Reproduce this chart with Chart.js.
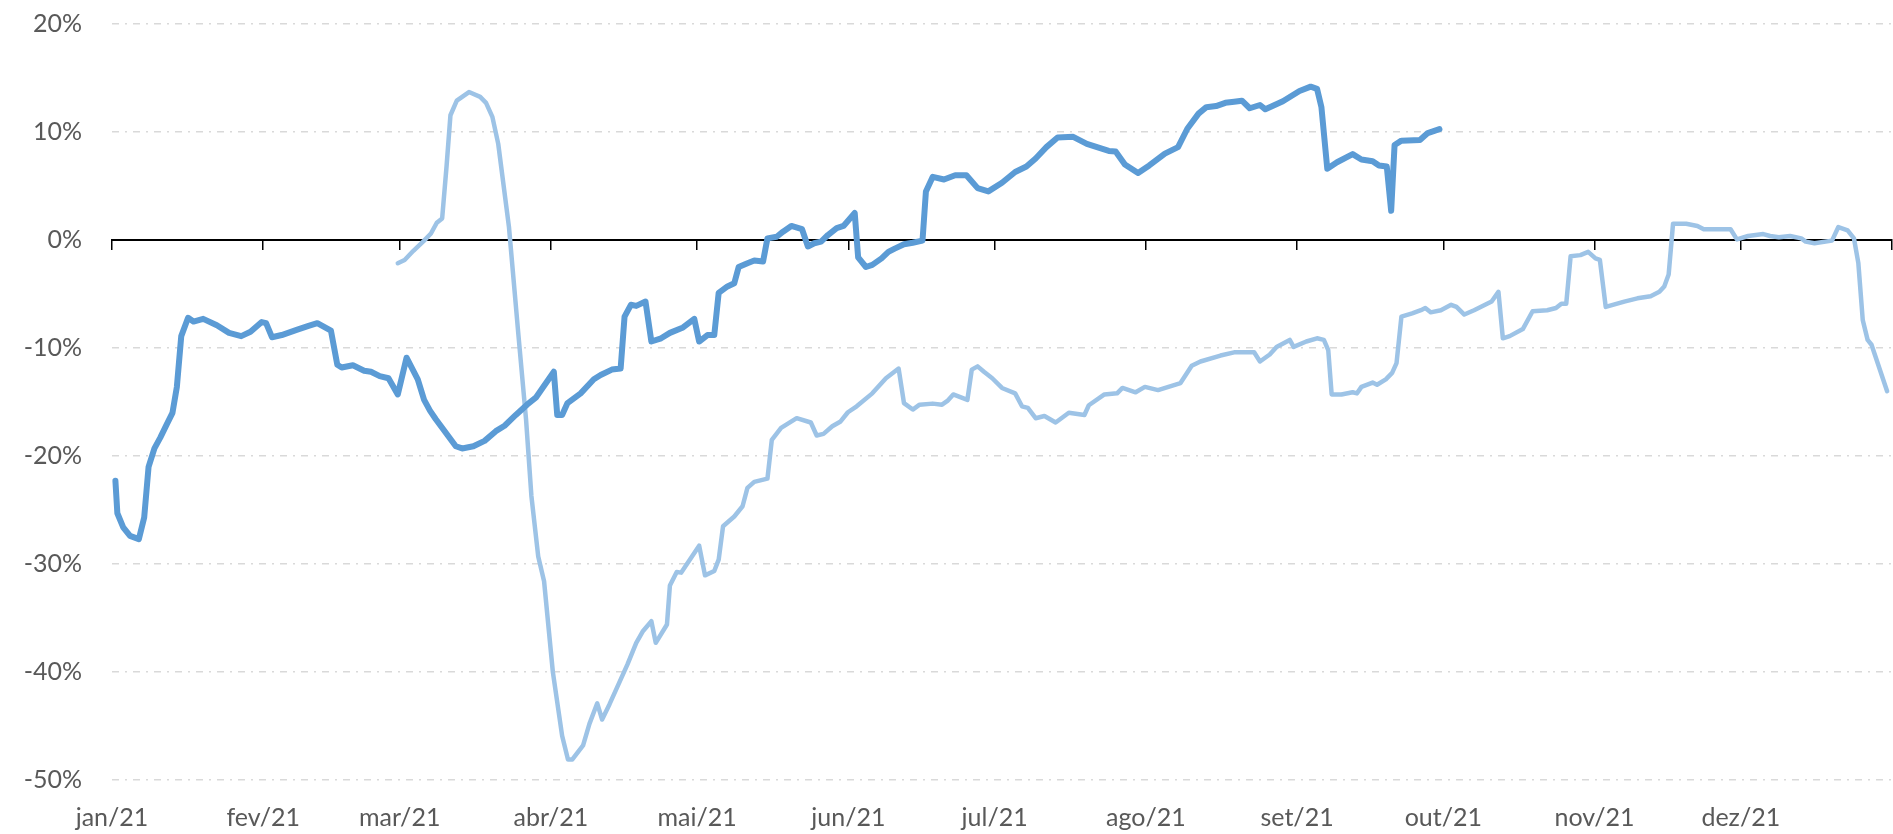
<!doctype html>
<html>

<head>
	<title>Retorno acumulado 2021</title>
	<script src="https://cdn.jsdelivr.net/npm/chart.js@4.4.1/dist/chart.umd.min.js"></script>
	<style>
		body {
			margin: 0;
			background: #fff;
		}
	</style>
</head>

<body>
	<canvas id="canvas" width="1893" height="834"></canvas>
	<script>
		// month axis (day of year where each month starts)
		var monthLabels = ['jan/21', 'fev/21', 'mar/21', 'abr/21', 'mai/21', 'jun/21', 'jul/21', 'ago/21', 'set/21', 'out/21', 'nov/21', 'dez/21'];
		var monthStarts = [0, 31, 59, 90, 120, 151, 181, 212, 243, 273, 304, 334];
		var yearEnd = 365;

		// dark series: day of year / value in %
		var darkDays = [
			0.7, 1.1, 2.3, 3.7, 5.5, 6.6, 7.5, 8.7, 9.9, 11.2, 12.4, 13.3, 14.2, 15.6, 16.7, 18.7,
			21.5, 24, 26.5, 28.4, 30.7, 31.6, 32.8, 34.8, 38, 40.3, 42.1, 44.9, 46.2, 47.1, 49.4,
			51.7, 53.1, 54.9, 56.7, 58.6, 60.4, 62.7, 64, 65.2, 66.4, 70.5, 71.8, 74.1, 76.4, 78.7,
			80.5, 82.8, 85.1, 86.9, 90.6, 91.3, 92.3, 93.4, 96.1, 98.8, 100.2, 102.5, 104.3, 105.1,
			106.4, 107.5, 109.4, 110.6, 112.6, 114.4, 117.1, 119.4, 120.4, 122.1, 123.5, 124.4,
			126.2, 127.6, 128.5, 130.3, 131.7, 133.5, 134.4, 136.3, 137.6, 139.3, 141.5, 142.7,
			144, 145.4, 146.8, 148.6, 150, 152.3, 153, 154.6, 155.9, 157.8, 159.2, 160.5, 162.4,
			164.2, 166.2, 166.9, 168.3, 170.6, 172.9, 175.2, 177.5, 179.7, 182.5, 185.2, 187.5,
			189.4, 191.6, 193.9, 197.1, 199.9, 204.4, 205.8, 207.7, 210.4, 212.7, 215.9, 218.6,
			220.5, 222.8, 224.4, 226.4, 228.3, 230.1, 231.7, 233.3, 235.4, 236.5, 240.1, 243.5,
			245.8, 247.1, 248, 249.2, 251.2, 254.4, 256.2, 258.5, 259.8, 261.4, 262.3, 263, 264.4,
			268.2, 269.8, 272.2
		];
		var darkValues = [
			-22.3, -25.3, -26.6, -27.4, -27.7, -25.7, -21.0, -19.3, -18.3, -17.1, -16.0, -13.6, -8.9, -7.2, -7.55, -7.3,
			-7.9, -8.6, -8.9, -8.5, -7.6, -7.7, -9.0, -8.8, -8.3, -7.95, -7.7, -8.4, -11.55, -11.8, -11.6,
			-12.1, -12.2, -12.6, -12.8, -14.3, -10.9, -12.9, -14.8, -15.8, -16.6, -19.1, -19.3, -19.1, -18.6, -17.7,
			-17.2, -16.2, -15.25, -14.6, -12.2, -16.2, -16.2, -15.1, -14.2, -12.9, -12.5, -12.0, -11.9, -7.1,
			-6.0, -6.1, -5.7, -9.4, -9.1, -8.6, -8.1, -7.3, -9.4, -8.8, -8.8, -4.9,
			-4.3, -4.0, -2.5, -2.15, -1.9, -2.0, 0.15, 0.3, 0.77, 1.3, 1.0, -0.6,
			-0.3, -0.15, 0.46, 1.1, 1.3, 2.5, -1.6, -2.5, -2.3, -1.7, -1.1, -0.8, -0.4,
			-0.25, -0.06, 4.5, 5.85, 5.6, 6.0, 6.0, 4.8, 4.5, 5.3, 6.3, 6.8,
			7.55, 8.6, 9.5, 9.55, 8.9, 8.25, 8.2, 7.0, 6.2, 6.9, 8.0, 8.6,
			10.3, 11.7, 12.3, 12.4, 12.7, 12.8, 12.9, 12.2, 12.5, 12.1, 12.85, 13.8,
			14.2, 14.0, 12.3, 6.6, 7.2, 7.95, 7.45, 7.3, 6.9, 6.8, 2.7, 8.8, 9.2,
			9.25, 9.9, 10.26
		];

		// light series: day of year / value in %
		var lightDays = [
			58.6, 60, 61.8, 64, 65.4, 66.6, 67.7, 68.6, 69.4, 70.7, 73.2, 75.5, 76.7, 78, 79.2, 81.4,
			83.3, 84.9, 86, 87.4, 88.6, 90.4, 92.3, 93.5, 94.4, 96.6, 97.9, 99.5, 100.5, 102, 103.9,
			105.7, 107.5, 108.9, 110.6, 111.5, 113.8, 114.4, 115.8, 116.7, 120.4, 121.6, 123.5, 124.4,
			125.3, 127.6, 129.3, 130.3, 131.7, 134.4, 135.3, 137.2, 140.4, 143.3, 144.5, 145.9, 147.7,
			149.4, 150.9, 152.7, 155.9, 158.7, 161.3, 162.4, 164.2, 165.6, 168.3, 170.2, 171.3, 172.5,
			175.4, 176.3, 177.5, 178.8, 180.5, 182.5, 185.2, 186.6, 187.8, 189.4, 191.2, 193.5, 196.2,
			199.4, 200.3, 203.5, 206.1, 207.2, 209.9, 211.8, 214.5, 219.1, 221.4, 223.2, 227.3, 230.1,
			234.2, 235.4, 237.4, 238.8, 241.5, 242.3, 244.9, 247.1, 248.5, 249.4, 250.1, 252.1, 254.4,
			255.3, 256.2, 258.5, 259.4, 261.2, 262.5, 263.4, 264.4, 266.6, 268.4, 269.3, 270.4, 272.5,
			274.6, 275.7, 277.3, 279.3, 282.9, 284.3, 285.2, 286.6, 289.3, 291.3, 294.3, 296.1, 297.2,
			298.2, 299.1, 301.1, 302.7, 304.2, 305.1, 306.3, 310.1, 312.8, 315.5, 317.3, 318.3, 319.2,
			320.1, 322.8, 325.1, 326.4, 331.9, 333.2, 335.5, 338.6, 340, 341.8, 344.1, 346.4, 347.3,
			349.1, 352.7, 354, 355.9, 357.2, 358.1, 359, 360, 360.8, 364
		];
		var lightValues = [
			-2.15, -1.85, -1.0, -0.06, 0.6, 1.6, 2.0, 6.8, 11.55, 12.9, 13.7, 13.25, 12.7, 11.4, 8.9, 1.2,
			-8.6, -16.6, -23.7, -29.3, -31.6, -40.0, -45.9, -48.1, -48.1, -46.8, -44.8, -42.9, -44.4, -43.0, -41.1,
			-39.3, -37.3, -36.2, -35.3, -37.3, -35.6, -32.0, -30.75, -30.8, -28.3, -31.05, -30.65, -29.6,
			-26.5, -25.6, -24.65, -22.95, -22.4, -22.1, -18.5, -17.4, -16.5, -16.9, -18.1, -17.95, -17.25,
			-16.8, -15.95, -15.4, -14.2, -12.8, -11.9, -15.1, -15.7, -15.25, -15.15, -15.25, -14.9, -14.3,
			-14.8, -12.0, -11.7, -12.2, -12.8, -13.7, -14.2, -15.4, -15.55, -16.5, -16.3, -16.9, -16.0,
			-16.2, -15.3, -14.3, -14.2, -13.7, -14.1, -13.6, -13.9, -13.25, -11.65, -11.25, -10.7, -10.4,
			-10.4, -11.25, -10.6, -9.9, -9.25, -9.9, -9.4, -9.1, -9.25, -10.2, -14.3, -14.3, -14.1,
			-14.2, -13.6, -13.2, -13.4, -12.9, -12.3, -11.4, -7.1, -6.8, -6.5, -6.3, -6.7, -6.5,
			-6.0, -6.2, -6.9, -6.5, -5.7, -4.8, -9.1, -8.9, -8.25, -6.6, -6.5, -6.3, -5.9,
			-5.9, -1.5, -1.4, -1.1, -1.7, -1.85, -6.2, -5.7, -5.4, -5.2, -4.8, -4.3, -3.2,
			1.5, 1.5, 1.3, 1.0, 1.0, 0.06, 0.37, 0.55, 0.37, 0.25, 0.37, 0.15, -0.15,
			-0.3, -0.06, 1.2, 0.9, 0.15, -2.15, -7.4, -9.25, -9.7, -14.0
		];

		var yTicks = [-50, -40, -30, -20, -10, 0, 10, 20];

		function toPoints(days, values) {
			return days.map(function(d, i) {
				return {x: d, y: values[i]};
			});
		}

		var labelFont = {family: 'Lato, "Open Sans", sans-serif', size: 25};
		var labelColor = '#595959';

		var config = {
			type: 'line',
			data: {
				datasets: [{
					label: 'Série 1',
					data: toPoints(darkDays, darkValues),
					borderColor: '#5B9BD5',
					borderWidth: 6
				}, {
					label: 'Série 2',
					data: toPoints(lightDays, lightValues),
					borderColor: '#9DC3E6',
					borderWidth: 4.5
				}]
			},
			options: {
				responsive: false,
				animation: false,
				layout: {
					padding: {top: 24, right: 1, left: 0, bottom: 0}
				},
				plugins: {
					legend: {display: false},
					tooltip: {enabled: false}
				},
				elements: {
					point: {radius: 0},
					line: {tension: 0, borderJoinStyle: 'round', borderCapStyle: 'round'}
				},
				scales: {
					x: {
						type: 'linear',
						position: 'bottom',
						min: 0,
						max: yearEnd,
						grid: {display: false, drawTicks: false},
						border: {display: false},
						afterBuildTicks: function(scale) {
							scale.ticks = monthStarts.map(function(v) {
								return {value: v};
							});
						},
						afterFit: function(scale) {
							scale.height = 54;
						},
						ticks: {
							autoSkip: false,
							maxRotation: 0,
							padding: 23,
							color: labelColor,
							font: labelFont,
							callback: function(v) {
								return monthLabels[monthStarts.indexOf(v)];
							}
						}
					},
					// axis line drawn at 0% with month tick marks
					x2: {
						type: 'linear',
						axis: 'x',
						position: {y: 0},
						min: 0,
						max: yearEnd,
						afterBuildTicks: function(scale) {
							scale.ticks = monthStarts.concat([yearEnd]).map(function(v) {
								return {value: v};
							});
						},
						ticks: {display: false},
						grid: {drawOnChartArea: false, drawTicks: true, tickLength: 9, color: '#000', lineWidth: 1.5},
						border: {display: true, color: '#000', width: 2}
					},
					y: {
						min: -50,
						max: 20,
						afterBuildTicks: function(scale) {
							scale.ticks = yTicks.map(function(v) {
								return {value: v};
							});
						},
						afterFit: function(scale) {
							scale.width = 112;
						},
						ticks: {
							padding: 0,
							color: labelColor,
							font: labelFont,
							callback: function(v) {
								return v + '%';
							}
						},
						grid: {
							drawTicks: true,
							tickLength: 30,
							tickColor: 'rgba(0,0,0,0)',
							lineWidth: 1.5,
							color: function(ctx) {
								return ctx.tick && ctx.tick.value === 0 ? 'rgba(0,0,0,0)' : '#d9d9d9';
							}
						},
						border: {display: false, dash: [7, 6, 2, 6]}
					}
				}
			}
		};

		window.onload = function() {
			window.myLine = new Chart(document.getElementById('canvas'), config);
		};
	</script>
</body>

</html>
